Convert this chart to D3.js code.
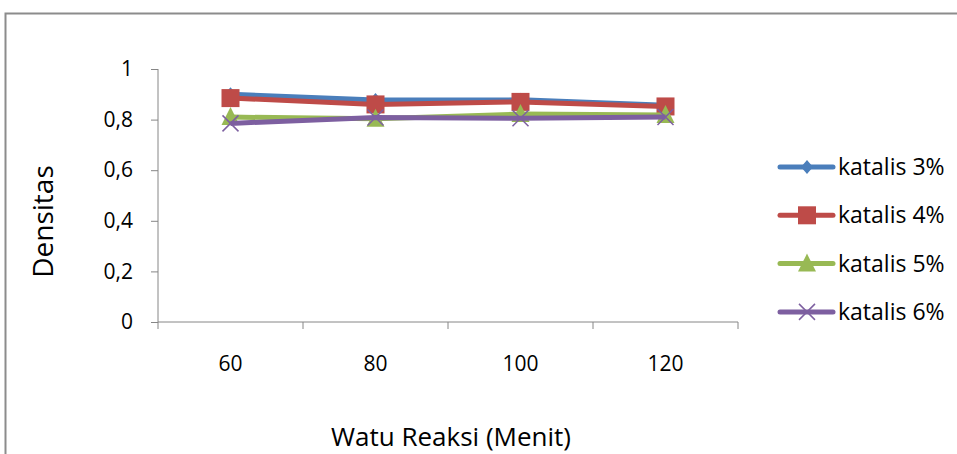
<!DOCTYPE html>
<html>
<head>
<meta charset="utf-8">
<script src="https://cdn.jsdelivr.net/npm/d3@7"></script>
<style>
  body { margin: 0; background: #fff; }
  svg { display: block; }
</style>
</head>
<body>
<div id="chart"></div>
<script>
/* Data */
var categories = ["60", "80", "100", "120"];
var seriesNames = ["katalis 3%", "katalis 4%", "katalis 5%", "katalis 6%"];
var katalis3 = [0.90, 0.877, 0.878, 0.857];
var katalis4 = [0.885, 0.86, 0.87, 0.852];
var katalis5 = [0.81, 0.803, 0.822, 0.818];
var katalis6 = [0.785, 0.808, 0.805, 0.81];
var yTicks = [0, 0.2, 0.4, 0.6, 0.8, 1];
var colors = ["#4a7ebb", "#be4b48", "#98b954", "#7d5fa0"];
var markers = ["diamond", "square", "triangle", "cross"];

var series = [katalis3, katalis4, katalis5, katalis6].map(function(v, i) {
    return { name: seriesNames[i], values: v, color: colors[i], marker: markers[i] };
});

/* Layout */
var W = 957, H = 454,
    plot = { left: 158, right: 738, top: 69, bottom: 322 },
    fontFamily = "'Open Sans', 'Noto Sans', sans-serif";

var svg = d3.select("#chart").append("svg")
    .attr("width", W)
    .attr("height", H);

/* Outer frame */
svg.append("rect")
    .attr("x", 5.5).attr("y", 13.5)
    .attr("width", 1000).attr("height", 500)
    .attr("fill", "none")
    .attr("stroke", "#8c8c8c")
    .attr("stroke-width", 2);

var x = d3.scaleBand().domain(categories).range([plot.left, plot.right]);
var y = d3.scaleLinear().domain([0, 1]).range([plot.bottom, plot.top]);

/* Y axis */
var yAxis = d3.axisLeft(y)
    .tickValues(yTicks)
    .tickSize(7)
    .tickPadding(18)
    .tickFormat(function(d) { return d3.format(".1~f")(d).replace(".", ","); });

var gy = svg.append("g")
    .attr("transform", "translate(" + plot.left + ",0)")
    .call(yAxis);
gy.select(".domain").attr("stroke", "#868686").attr("d", "M0," + plot.top + "V" + plot.bottom);
gy.selectAll(".tick line").attr("stroke", "#868686");
gy.selectAll(".tick text")
    .attr("font-size", 21).attr("font-family", fontFamily).attr("fill", "#000");

/* X axis: ticks at band boundaries */
var gx = svg.append("g")
    .attr("transform", "translate(0," + plot.bottom + ")")
    .call(d3.axisBottom(x).tickSize(0).tickPadding(34));
gx.select(".domain").attr("stroke", "#868686").attr("d", "M" + plot.left + ",0H" + plot.right);
gx.selectAll(".tick text")
    .attr("font-size", 21).attr("font-family", fontFamily).attr("fill", "#000");

var bounds = categories.map(function(c) { return x(c); }).concat([x.range()[1]]);
gx.selectAll(".bound")
    .data(bounds)
    .enter().append("line")
    .attr("x1", function(d) { return d; })
    .attr("x2", function(d) { return d; })
    .attr("y1", 0).attr("y2", 7)
    .attr("stroke", "#868686");

/* Axis titles */
svg.append("text")
    .attr("transform", "translate(53," + ((plot.top + plot.bottom) / 2 + 26) + ")rotate(-90)")
    .attr("text-anchor", "middle")
    .attr("font-size", 28)
    .attr("font-family", fontFamily)
    .text("Densitas");

svg.append("text")
    .attr("x", 451).attr("y", 446)
    .attr("text-anchor", "middle")
    .attr("font-size", 26)
    .attr("font-family", fontFamily)
    .text("Watu Reaksi (Menit)");

/* Marker drawing */
function drawMarker(sel, type, color) {
    if (type === "diamond") {
        sel.append("path").attr("d", "M0,-7L6,0L0,7L-6,0Z").attr("fill", color);
    } else if (type === "square") {
        sel.append("rect").attr("x", -9).attr("y", -9).attr("width", 18).attr("height", 18).attr("fill", color);
    } else if (type === "triangle") {
        sel.append("path").attr("d", "M0,-10L9,8L-9,8Z").attr("fill", color);
    } else {
        sel.append("path").attr("d", "M-8,-8L8,8M-8,8L8,-8")
            .attr("stroke", color).attr("stroke-width", 1.5).attr("fill", "none");
    }
}

var cx = function(i) { return x(categories[i]) + x.bandwidth() / 2; };

var line = d3.line()
    .x(function(d, i) { return cx(i); })
    .y(function(d) { return y(d); });

series.forEach(function(s) {
    var g = svg.append("g");
    g.append("path")
        .datum(s.values)
        .attr("fill", "none")
        .attr("stroke", s.color)
        .attr("stroke-width", 5)
        .attr("stroke-linejoin", "round")
        .attr("d", line);
    g.selectAll(".m")
        .data(s.values)
        .enter().append("g")
        .attr("transform", function(d, i) { return "translate(" + cx(i) + "," + y(d) + ")"; })
        .each(function() { drawMarker(d3.select(this), s.marker, s.color); });
});

/* Legend */
var legend = svg.append("g")
    .selectAll("g")
    .data(series)
    .enter().append("g")
    .attr("transform", function(d, i) { return "translate(780," + (167 + i * 48.3) + ")"; });

legend.append("line")
    .attr("x1", 0).attr("x2", 53)
    .attr("stroke", function(d) { return d.color; })
    .attr("stroke-width", 5)
    .attr("stroke-linecap", "round");

legend.each(function(d) {
    var m = d3.select(this).append("g").attr("transform", "translate(27,0)");
    drawMarker(m, d.marker, d.color);
});

legend.append("text")
    .attr("x", 58).attr("y", 8)
    .attr("font-size", 23)
    .attr("font-family", fontFamily)
    .text(function(d) { return d.name; });
</script>
</body>
</html>
